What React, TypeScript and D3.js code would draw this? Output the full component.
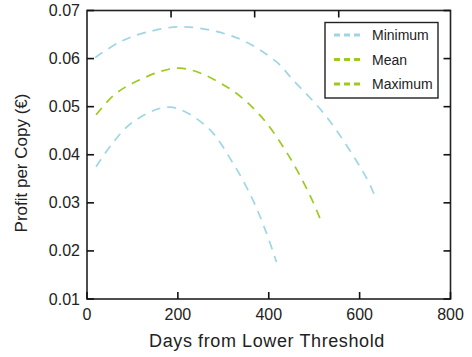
import React from "react";
import * as d3 from "d3";

const xTicks = [0, 200, 400, 600, 800];
const yTicks = [0.01, 0.02, 0.03, 0.04, 0.05, 0.06, 0.07];
const topTickDays = [185, 369, 554];

const upperDays = [18, 73, 132, 215, 330, 417, 453, 527, 615, 637];
const upperVals = [0.0602, 0.0635, 0.0655, 0.0666, 0.0643, 0.0593, 0.0556, 0.0479, 0.0352, 0.0306];

const meanDays = [20, 57, 101, 204, 308, 380, 440, 490, 516];
const meanVals = [0.0483, 0.0522, 0.0549, 0.058, 0.0541, 0.0483, 0.0404, 0.0317, 0.026];

const lowerDays = [20, 57, 101, 182, 264, 321, 365, 395, 417];
const lowerVals = [0.0375, 0.0425, 0.0468, 0.0499, 0.0458, 0.0383, 0.0306, 0.0237, 0.0177];

const legendLabels = ["Minimum", "Mean", "Maximum"];
const BLUE = "#9dd7e6";
const GREEN = "#9ccb1e";
const legendColors = [BLUE, GREEN, GREEN];

const W = 472, H = 357;
const L = 87, R = 450.5, T = 10.5, B = 299;
const FONT = "'Liberation Sans', Arial, Helvetica, sans-serif";

export default function App() {
  const x = d3.scaleLinear().domain([0, 800]).range([L, R]);
  const y = d3.scaleLinear().domain([0.01, 0.07]).range([B, T]);
  const line = d3
    .line<[number, number]>()
    .x((d) => x(d[0]))
    .y((d) => y(d[1]))
    .curve(d3.curveCatmullRom.alpha(0.5));
  const series = [
    { days: upperDays, vals: upperVals, color: BLUE },
    { days: meanDays, vals: meanVals, color: GREEN },
    { days: lowerDays, vals: lowerVals, color: BLUE },
  ];
  const tickLen = 7;
  const lgX = 325, lgY = 22.5, lgW = 113, lgH = 75.5;
  return (
    <svg width={W} height={H} style={{ position: "absolute", left: 0, top: 0, background: "#fff" }} fontFamily={FONT}>
      {series.map((s, i) => (
        <path
          key={i}
          d={line(s.days.map((d, j) => [d, s.vals[j]] as [number, number])) || ""}
          fill="none"
          stroke={s.color}
          strokeWidth={1.7}
          strokeDasharray="9,7"
        />
      ))}
      <rect x={L} y={T} width={R - L} height={B - T} fill="none" stroke="#222" strokeWidth={1.6} />
      {xTicks.map((t) => (
        <g key={"x" + t}>
          <line x1={x(t)} x2={x(t)} y1={B} y2={B - tickLen} stroke="#111" strokeWidth={1.6} />
          <text x={x(t)} y={320} textAnchor="middle" fontSize={16} fill="#222">{t}</text>
        </g>
      ))}
      {topTickDays.map((t) => (
        <line key={"tt" + t} x1={x(t)} x2={x(t)} y1={T} y2={T + tickLen} stroke="#111" strokeWidth={1.6} />
      ))}
      {yTicks.map((t) => (
        <g key={"y" + t}>
          <line x1={L} x2={L + tickLen} y1={y(t)} y2={y(t)} stroke="#111" strokeWidth={1.6} />
          <line x1={R} x2={R - tickLen} y1={y(t)} y2={y(t)} stroke="#111" strokeWidth={1.6} />
          <text x={80} y={y(t) + 5.5} textAnchor="end" fontSize={16} fill="#222">{t.toFixed(2)}</text>
        </g>
      ))}
      <text x={267} y={347} textAnchor="middle" fontSize={18} letterSpacing={0.6} fill="#222">Days from Lower Threshold</text>
      <text transform={`translate(27,163) rotate(-90)`} textAnchor="middle" fontSize={17} fill="#222">Profit per Copy (€)</text>
      <rect x={lgX} y={lgY} width={lgW} height={lgH} fill="#fff" stroke="#222" strokeWidth={1.4} />
      {legendLabels.map((lab, i) => {
        const yy = 35 + i * 24.5;
        return (
          <g key={lab}>
            <line x1={334} x2={362} y1={yy} y2={yy} stroke={legendColors[i]} strokeWidth={3} strokeDasharray="6,4" />
            <text x={372} y={yy + 5} fontSize={14} fill="#222">{lab}</text>
          </g>
        );
      })}
    </svg>
  );
}
